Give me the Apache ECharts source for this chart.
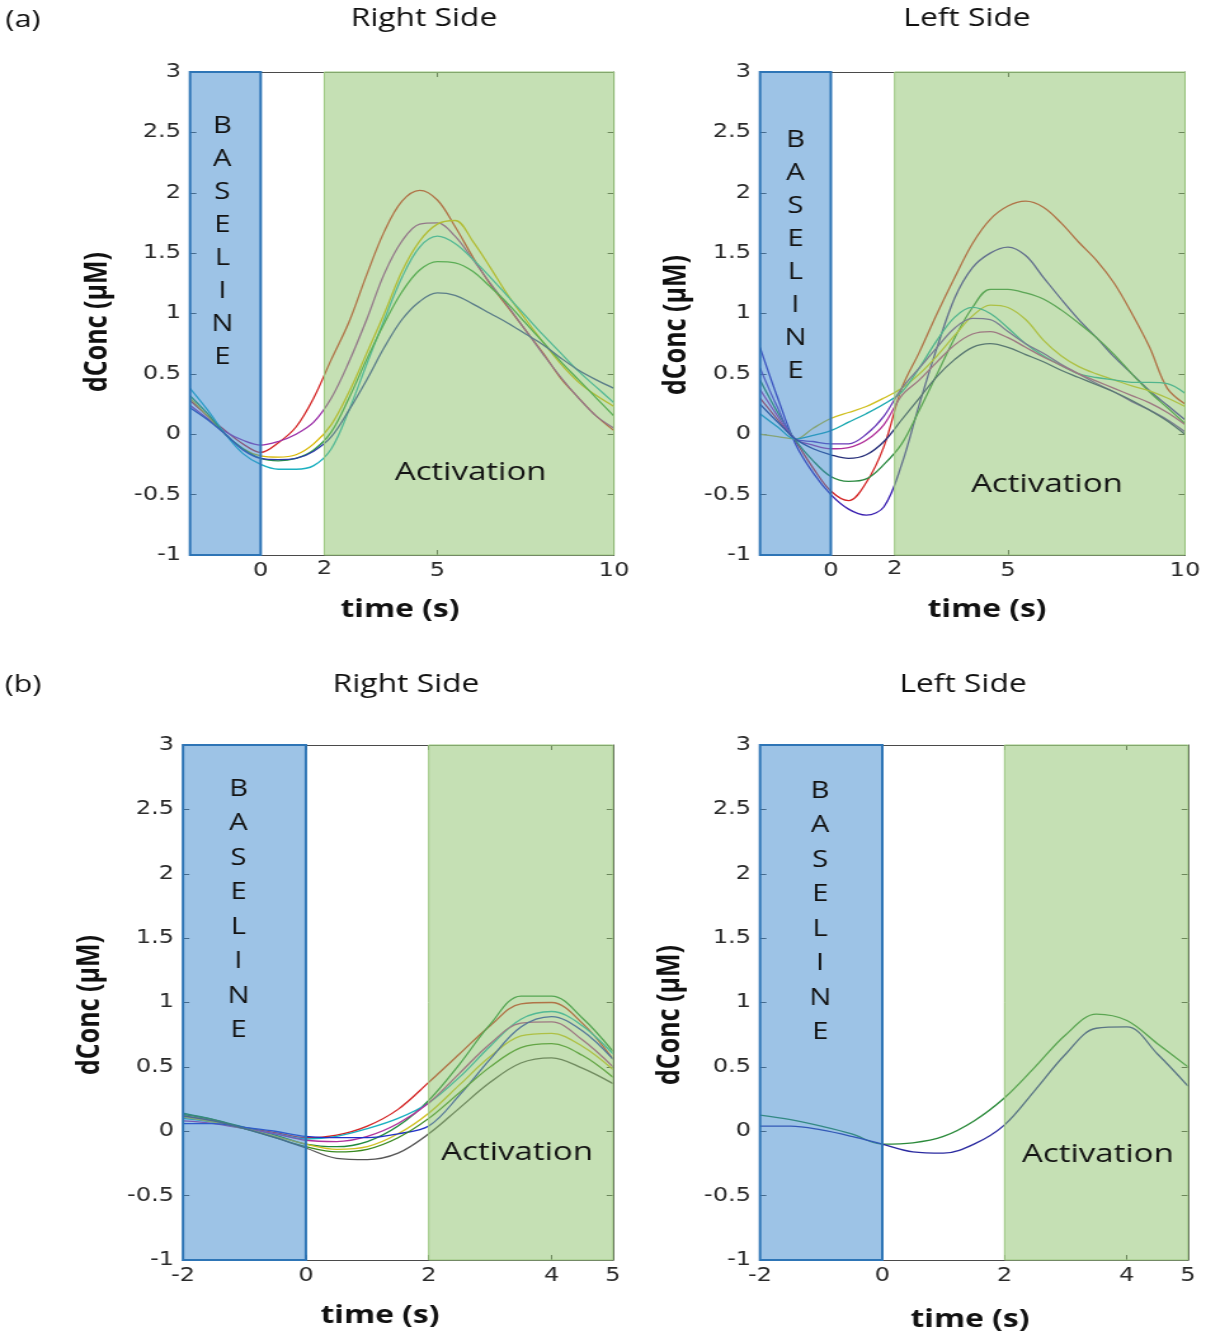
<!DOCTYPE html>
<html>
<head>
<meta charset="utf-8">
<title>dConc time courses</title>
<script src="https://cdn.jsdelivr.net/npm/echarts@6/dist/echarts.min.js"></script>
<style>
  html, body { margin: 0; padding: 0; background: #fff; overflow: hidden; }
  /* the figure is laid out on a 950px-wide canvas and shown widened to 1206px */
  #chart { width: 950px; height: 1337px; transform: scaleX(1.269474); transform-origin: 0 0; }
</style>
</head>
<body>
<div id="chart"></div>
<script>
// ---- sample times (s) ----
const timeA = [-2, -1.5, -1, -0.5, 0, 0.5, 1, 1.5, 2, 2.5, 3, 3.5, 4, 4.5, 5, 5.5, 6, 6.5, 7, 7.5, 8, 8.5, 9, 9.5, 10];
const timeB = [-2, -1.5, -1, -0.5, 0, 0.5, 1, 1.5, 2, 2.5, 3, 3.5, 4, 4.5, 5];

// ---- tick labels ----
const xTicksA = [0, 5, 10];
const xTicksB = [-2, 0, 2, 4, 5];
const yRange = [-1, 3];

// ---- (a) Right Side, dConc (µM) ----
const aRightRed     = [0.28, 0.15, 0.03, -0.08, -0.15, -0.07, 0.06, 0.30, 0.62, 0.93, 1.32, 1.68, 1.93, 2.02, 1.94, 1.72, 1.47, 1.24, 1.05, 0.86, 0.67, 0.46, 0.30, 0.15, 0.03];
const aRightMagenta = [0.24, 0.13, 0.02, -0.05, -0.09, -0.06, 0.00, 0.10, 0.30, 0.60, 0.95, 1.33, 1.60, 1.74, 1.75, 1.64, 1.45, 1.25, 1.06, 0.86, 0.66, 0.47, 0.30, 0.15, 0.05];
const aRightYellow  = [0.30, 0.15, 0.00, -0.12, -0.18, -0.19, -0.17, -0.08, 0.08, 0.35, 0.67, 1.00, 1.35, 1.60, 1.74, 1.77, 1.60, 1.38, 1.15, 0.95, 0.76, 0.58, 0.43, 0.32, 0.23];
const aRightCyan    = [0.38, 0.20, 0.00, -0.16, -0.25, -0.29, -0.29, -0.26, -0.12, 0.20, 0.58, 0.95, 1.30, 1.55, 1.64, 1.58, 1.45, 1.30, 1.14, 0.98, 0.82, 0.67, 0.52, 0.39, 0.26];
const aRightGreen   = [0.32, 0.17, 0.00, -0.12, -0.20, -0.22, -0.20, -0.13, 0.02, 0.30, 0.62, 0.92, 1.18, 1.36, 1.43, 1.42, 1.35, 1.22, 1.08, 0.92, 0.76, 0.60, 0.45, 0.30, 0.15];
const aRightBlue    = [0.22, 0.12, 0.00, -0.13, -0.20, -0.21, -0.20, -0.14, -0.02, 0.20, 0.45, 0.72, 0.95, 1.10, 1.17, 1.15, 1.08, 1.00, 0.92, 0.83, 0.74, 0.63, 0.53, 0.45, 0.38];

// ---- (a) Left Side, dConc (µM) ----
const aLeftRed      = [0.30, 0.12, -0.06, -0.28, -0.47, -0.55, -0.40, -0.10, 0.38, 0.68, 1.00, 1.30, 1.58, 1.78, 1.89, 1.93, 1.88, 1.75, 1.59, 1.44, 1.25, 1.00, 0.72, 0.38, 0.25];
const aLeftIndigo   = [0.72, 0.30, -0.08, -0.32, -0.50, -0.62, -0.67, -0.60, -0.25, 0.25, 0.72, 1.13, 1.38, 1.50, 1.55, 1.48, 1.30, 1.12, 0.95, 0.80, 0.64, 0.50, 0.36, 0.24, 0.12];
const aLeftGreen    = [0.45, 0.18, -0.05, -0.22, -0.35, -0.39, -0.37, -0.25, -0.08, 0.20, 0.50, 0.80, 1.05, 1.20, 1.20, 1.17, 1.12, 1.03, 0.92, 0.80, 0.66, 0.50, 0.35, 0.22, 0.09];
const aLeftYellow   = [0.00, -0.02, -0.04, 0.05, 0.13, 0.18, 0.23, 0.30, 0.38, 0.50, 0.65, 0.82, 0.98, 1.07, 1.05, 0.95, 0.78, 0.65, 0.56, 0.50, 0.45, 0.40, 0.36, 0.30, 0.23];
const aLeftTeal     = [0.17, 0.06, -0.04, -0.01, 0.03, 0.10, 0.17, 0.25, 0.35, 0.55, 0.78, 0.97, 1.05, 1.00, 0.88, 0.75, 0.65, 0.57, 0.50, 0.47, 0.45, 0.43, 0.43, 0.42, 0.34];
const aLeftPurple   = [0.55, 0.22, -0.04, -0.06, -0.08, -0.08, 0.00, 0.15, 0.38, 0.55, 0.72, 0.88, 0.96, 0.95, 0.85, 0.75, 0.67, 0.58, 0.50, 0.42, 0.35, 0.27, 0.20, 0.12, 0.02];
const aLeftMagenta  = [0.37, 0.15, -0.04, -0.09, -0.12, -0.11, -0.05, 0.08, 0.32, 0.45, 0.60, 0.74, 0.83, 0.85, 0.80, 0.72, 0.64, 0.57, 0.50, 0.44, 0.38, 0.32, 0.26, 0.18, 0.08];
const aLeftNavy     = [0.25, 0.10, -0.04, -0.12, -0.17, -0.20, -0.17, -0.06, 0.12, 0.30, 0.48, 0.62, 0.72, 0.75, 0.72, 0.66, 0.60, 0.53, 0.47, 0.41, 0.35, 0.28, 0.20, 0.11, 0.00];

// ---- (b) Right Side, dConc (µM) ----
const bRightRed     = [0.12, 0.08, 0.03, -0.01, -0.05, -0.03, 0.04, 0.17, 0.38, 0.60, 0.82, 0.99, 1.00, 0.84, 0.56];
const bRightGreen   = [0.14, 0.09, 0.03, -0.03, -0.10, -0.12, -0.08, 0.04, 0.24, 0.52, 0.83, 1.05, 1.05, 0.88, 0.62];
const bRightCyan    = [0.10, 0.07, 0.02, -0.02, -0.06, -0.04, 0.02, 0.10, 0.22, 0.42, 0.66, 0.87, 0.93, 0.82, 0.60];
const bRightMagenta = [0.08, 0.06, 0.02, -0.02, -0.07, -0.08, -0.04, 0.06, 0.22, 0.45, 0.68, 0.84, 0.85, 0.71, 0.50];
const bRightYellow  = [0.11, 0.07, 0.02, -0.04, -0.10, -0.14, -0.12, -0.02, 0.14, 0.36, 0.58, 0.74, 0.76, 0.66, 0.48];
const bRightBlue    = [0.06, 0.06, 0.03, 0.00, -0.04, -0.05, -0.05, -0.02, 0.04, 0.28, 0.56, 0.81, 0.89, 0.78, 0.56];
const bRightOlive   = [0.13, 0.09, 0.02, -0.05, -0.12, -0.16, -0.14, -0.05, 0.10, 0.30, 0.50, 0.65, 0.68, 0.59, 0.42];
const bRightGray    = [0.12, 0.08, 0.02, -0.05, -0.13, -0.21, -0.22, -0.17, -0.02, 0.18, 0.38, 0.53, 0.57, 0.49, 0.37];

// ---- (b) Left Side, dConc (µM) ----
const bLeftGreen    = [0.125, 0.09, 0.04, -0.02, -0.10, -0.09, -0.04, 0.08, 0.26, 0.50, 0.75, 0.91, 0.86, 0.68, 0.50];
const bLeftBlue     = [0.04, 0.04, 0.01, -0.04, -0.10, -0.16, -0.17, -0.10, 0.05, 0.32, 0.60, 0.80, 0.81, 0.60, 0.35];

// ---- styling ----
const SX = 1206 / 950;             // horizontal widening of the page
const px = v => v / SX;            // page x -> canvas x
const TICK_FONT = 'DejaVu Sans';
const TEXT_FONT = 'Open Sans';
const BLUE_FILL = 'rgba(59, 135, 205, 0.5)';
const GREEN_FILL = 'rgba(139, 193, 105, 0.5)';
const FRAME = '#4a4a4a';

const panels = [
  {
    box: [190, 72, 424, 483],
    time: timeA, xMax: 10, xTicks: xTicksA, actStart: 1.8, edgeLabel: '2',
    baseDist: 39, baseLH: 33, baseDx: -3, actPos: [147, 401],
    curves: [
      [aRightRed, '#d42424'], [aRightMagenta, '#9b2fa8'], [aRightYellow, '#d8b800'],
      [aRightCyan, '#1cb0c0'], [aRightGreen, '#2b9a40'], [aRightBlue, '#2b3aa8']
    ]
  },
  {
    box: [760, 72, 425, 483],
    time: timeA, xMax: 10, xTicks: xTicksA, actStart: 1.8, edgeLabel: '2',
    baseDist: 53, baseLH: 33, baseDx: 0, actPos: [153, 413],
    curves: [
      [aLeftRed, '#d42424'], [aLeftIndigo, '#3a1fb0'], [aLeftGreen, '#2b8a40'],
      [aLeftYellow, '#d0c020'], [aLeftTeal, '#18a8b0'], [aLeftPurple, '#6a3ab8'],
      [aLeftMagenta, '#b0309a'], [aLeftNavy, '#28307a']
    ]
  },
  {
    box: [183, 745, 430, 515],
    time: timeB, xMax: 5, xTicks: xTicksB, actStart: 2, edgeLabel: null,
    baseDist: 28, baseLH: 34.5, baseDx: -6, actPos: [89, 408],
    curves: [
      [bRightRed, '#d42424'], [bRightGreen, '#1f8a3a'], [bRightCyan, '#18b0c0'],
      [bRightMagenta, '#b0309a'], [bRightYellow, '#d0c020'], [bRightBlue, '#2030c8'],
      [bRightOlive, '#3a8a20'], [bRightGray, '#555555']
    ]
  },
  {
    box: [760, 745, 428, 515],
    time: timeB, xMax: 5, xTicks: xTicksB, actStart: 2, edgeLabel: null,
    baseDist: 30, baseLH: 34.5, baseDx: -1, actPos: [94, 410],
    curves: [[bLeftGreen, '#2a8a3a'], [bLeftBlue, '#2a2aa0']]
  }
];

const grids = [], xAxes = [], yAxes = [], series = [];
const tickLabel = { fontFamily: TICK_FONT, fontSize: 19, color: '#2a2a2a' };

panels.forEach((p, i) => {
  const [l, t, w, h] = p.box;
  grids.push({ left: px(l), top: t, width: px(w), height: h, containLabel: false });
  const xi = xAxes.length, yi = yAxes.length;

  const xCommon = { gridIndex: i, type: 'value', min: -2, max: p.xMax, splitLine: { show: false },
    axisLine: { show: true, onZero: false, lineStyle: { color: FRAME, width: 1 } } };
  xAxes.push(Object.assign({}, xCommon, {
    position: 'bottom',
    axisTick: { show: true, inside: true, length: 5, customValues: p.xTicks, lineStyle: { color: FRAME } },
    axisLabel: Object.assign({ show: true, customValues: p.xTicks, margin: 7 }, tickLabel)
  }));
  xAxes.push(Object.assign({}, xCommon, {
    position: 'top',
    axisTick: { show: true, inside: true, length: 5, customValues: p.xTicks, lineStyle: { color: FRAME } },
    axisLabel: { show: false }
  }));

  const yCommon = { gridIndex: i, type: 'value', min: yRange[0], max: yRange[1], interval: 0.5,
    splitLine: { show: false }, axisLine: { show: true, onZero: false, lineStyle: { color: FRAME, width: 1 } },
    axisTick: { show: true, inside: true, length: 5, lineStyle: { color: FRAME } } };
  yAxes.push(Object.assign({}, yCommon, {
    position: 'left',
    axisLabel: Object.assign({ show: true, margin: 7 }, tickLabel)
  }));
  yAxes.push(Object.assign({}, yCommon, { position: 'right', axisLabel: { show: false } }));

  p.curves.forEach(([vals, color]) => {
    series.push({
      type: 'line', xAxisIndex: xi, yAxisIndex: yi, z: 2, silent: true,
      data: p.time.map((tm, k) => [tm, vals[k]]),
      smooth: 0.35, symbol: 'none', showSymbol: false,
      lineStyle: { width: 1.3, color: color }
    });
  });

  // shaded baseline / activation windows, laid over the traces
  const band = {
    type: 'line', xAxisIndex: xi, yAxisIndex: yi, z: 5, silent: true, data: [],
    markArea: {
      silent: true, z: 6,
      data: [
        [{
          xAxis: -2,
          itemStyle: { color: BLUE_FILL, borderColor: '#2e75b6', borderWidth: 2 },
          label: {
            show: true, formatter: 'B\nA\nS\nE\nL\nI\nN\nE', position: 'insideTop',
            distance: p.baseDist, offset: [px(p.baseDx), 0], align: 'center',
            fontFamily: TEXT_FONT, fontSize: 23, lineHeight: p.baseLH, color: '#141414'
          }
        }, { xAxis: 0 }],
        [{
          xAxis: p.actStart,
          itemStyle: { color: GREEN_FILL, borderColor: '#9cc880', borderWidth: 1 },
          label: {
            show: true, formatter: 'Activation', position: [px(p.actPos[0]), p.actPos[1]],
            align: 'center', verticalAlign: 'middle',
            fontFamily: TEXT_FONT, fontSize: 26, color: '#141414'
          }
        }, { xAxis: p.xMax }]
      ]
    }
  };
  if (p.edgeLabel) {
    band.markLine = {
      silent: true, z: 6, symbol: ['none', 'none'],
      lineStyle: { color: 'rgba(0,0,0,0)', width: 0 },
      label: Object.assign({ show: true, position: 'start', distance: 5, formatter: p.edgeLabel }, tickLabel),
      data: [[{ coord: [p.actStart, yRange[0]] }, { coord: [p.actStart, yRange[1]] }]]
    };
  }
  series.push(band);
});

// titles and axis names
function txt(text, x, y, size, weight, extra) {
  return Object.assign({
    type: 'text', x: px(x), y: y, silent: true,
    style: { text: text, fontFamily: TEXT_FONT, fontSize: size, fontWeight: weight,
      fill: '#111', align: 'center', verticalAlign: 'middle' }
  }, extra || {});
}
const graphics = [
  txt('(a)', 23, 20, 24, 'normal'),
  txt('(b)', 23, 685, 24, 'normal'),
  txt('Right Side', 424, 19, 25, 'normal'),
  txt('Left Side', 967, 19, 25, 'normal'),
  txt('Right Side', 406, 685, 25, 'normal'),
  txt('Left Side', 963, 685, 25, 'normal'),
  txt('time (s)', 400, 610, 25, 'bold'),
  txt('time (s)', 987, 610, 25, 'bold'),
  txt('time (s)', 380, 1316, 25, 'bold'),
  txt('time (s)', 970, 1320, 25, 'bold'),
  txt('dConc (µM)', 97, 322, 25, 'bold', { rotation: Math.PI / 2 }),
  txt('dConc (µM)', 677, 325, 25, 'bold', { rotation: Math.PI / 2 }),
  txt('dConc (µM)', 90, 1005, 25, 'bold', { rotation: Math.PI / 2 }),
  txt('dConc (µM)', 670, 1015, 25, 'bold', { rotation: Math.PI / 2 })
];

const chart = echarts.init(document.getElementById('chart'), null, { renderer: 'canvas' });
chart.setOption({
  animation: false,
  backgroundColor: '#ffffff',
  grid: grids,
  xAxis: xAxes,
  yAxis: yAxes,
  series: series,
  graphic: graphics
});
</script>
</body>
</html>
